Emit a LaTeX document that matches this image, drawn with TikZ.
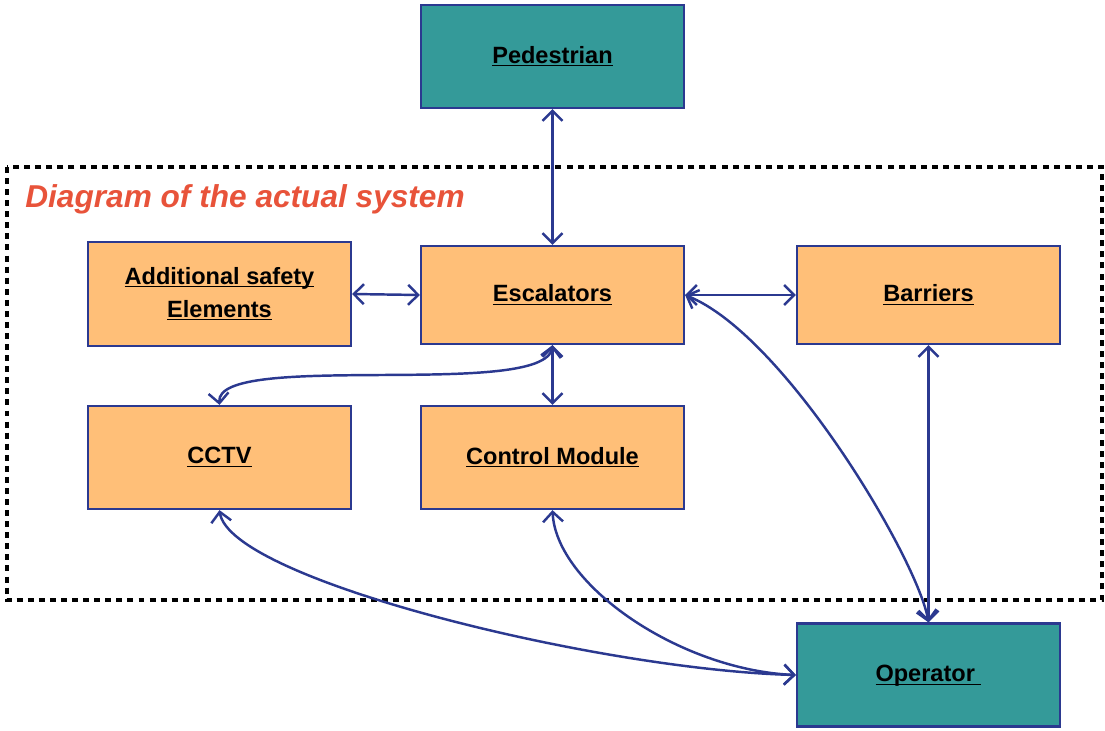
\documentclass[tikz,border=0pt]{standalone}
\usepackage{fontspec}
\setmainfont{Liberation Sans}
\usetikzlibrary{positioning,arrows.meta}
\definecolor{tealbox}{HTML}{349A99}
\definecolor{orangebox}{HTML}{FFBF78}
\definecolor{edgeblue}{HTML}{2B3990}
\definecolor{titlered}{HTML}{E8533A}
\newcommand{\undl}[1]{\underline{\raisebox{0pt}[\height][0pt]{#1}}}
\tikzset{
  blk/.style={rectangle,draw=edgeblue,line width=1.3pt,minimum width=5.26cm,
    minimum height=2.06cm,align=center,font=\fontsize{13.4}{18.7}\selectfont\bfseries},
  ext/.style={blk,fill=tealbox},          % outside actors
  part/.style={blk,fill=orangebox},       % parts of the system
  link/.style={{Straight Barb[length=2mm,width=4mm]}-{Straight Barb[length=2mm,width=4mm]},
    line width=1.4pt,draw=edgeblue},
  sysframe/.style={draw=black,line width=1.8pt,dash pattern=on 3.4pt off 2.9pt},
}

\begin{document}
\begin{tikzpicture}[x=0.02cm,y=-0.02cm]
  \useasboundingbox (0,0) rectangle (1105,730);
  \draw[sysframe] (7,167) rectangle (1102,600);
  \node[font=\fontsize{18}{22}\selectfont\bfseries\itshape,text=titlered,anchor=west,inner sep=0pt]
    (title) at (25,199) {Diagram of the actual system};
  \node[ext] (ped) at (552.5,56.5) {\undl{Pedestrian}};
  \node[part,minimum height=2.08cm] (add) at (219.5,294) {\undl{Additional safety}\\\undl{Elements}};
  \node[part,minimum height=1.96cm] (esc) at (552.5,295) {\undl{Escalators}};
  \node[part,minimum height=1.96cm] (bar) at (928.5,295) {\undl{Barriers}};
  \node[part] (cctv) at (219.5,457.5) {\undl{CCTV}};
  \node[part] (ctrl) at (552.5,457.5) {\undl{Control Module}};
  \node[ext] (op) at (928.5,675) {\undl{Operator~}};
  % straight links
  \foreach \a/\b in {ped/esc, esc/ctrl, bar/op}
    \draw[link] (\a.south) -- (\b.north);
  \draw[link] (add.east) -- (esc.west);
  \draw[link] (esc.east) -- (bar.west);
  % curved links
  \draw[link] (esc.south) .. controls (545,400) and (215,350) .. (cctv.north);
  \draw[link] (esc.east) .. controls (785,335) and (918,560) .. (op.north);
  \draw[link] (cctv.south) .. controls (230,580) and (600,670) .. (op.west);
  \draw[link] (ctrl.south) .. controls (556,585) and (680,670) .. (op.west);
\end{tikzpicture}
\end{document}
